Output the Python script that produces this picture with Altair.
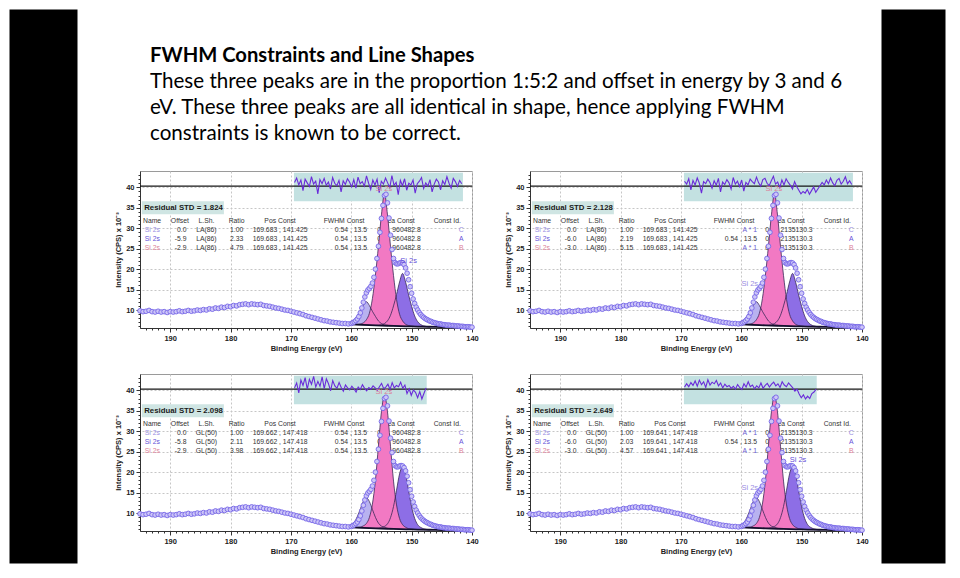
import altair as alt
import numpy as np
import pandas as pd

FONT = "Liberation Sans"
SLIDE_FONT = "Lato"

TITLE = "FWHM Constraints and Line Shapes"
BODY_LINES = [
    "These three peaks are in the proportion 1:5:2 and offset in energy by 3 and 6",
    "eV. These three peaks are all identical in shape, hence applying FWHM",
    "constraints is known to be correct.",
]

# measured Si 2s spectrum (same acquisition in all four panels), intensity x 10^-3
SPEC_WIDE = [9.8, 9.6, 9.7, 9.9, 9.6, 9.5, 9.7, 9.5, 9.6, 9.4,
             9.6, 9.5, 9.6, 9.8, 9.6, 9.7, 9.9, 9.7, 9.8, 10.0,
             9.9, 10.1, 10.0, 10.3, 10.2, 10.5, 10.4, 10.7, 10.6, 10.9,
             10.8, 11.1, 11.0, 11.3, 11.4, 11.5, 11.3, 11.5, 11.4, 11.3,
             11.4, 11.1, 11.0, 10.9, 10.7, 10.5, 10.4, 10.2, 10.0, 9.9,
             9.7, 9.5, 9.3, 9.1, 8.9, 8.6, 8.4, 8.2, 8.0, 7.8,
             7.6, 7.4, 7.3, 7.1, 7.0, 6.9, 6.8, 6.7, 6.7, 6.6, 6.7]          # 195 -> 160 eV
SPEC_FINE = [6.9, 7.1, 7.4, 7.8, 8.4, 9.3, 10.5, 11.9, 13.2, 14.2,
             14.9, 15.3, 15.8, 16.6, 18.0, 20.0, 22.6, 25.6, 29.0, 32.4,
             35.6, 38.0, 38.3, 36.2, 32.5, 28.3, 24.8, 22.6, 21.6, 21.3,
             21.3, 21.5, 21.6, 21.5, 21.1, 20.3, 19.0, 17.4, 15.7, 14.1,
             12.7, 11.6, 10.7, 10.0, 9.4, 8.9, 8.5, 8.2, 7.9, 7.7,
             7.5, 7.3, 7.2, 7.0, 6.9, 6.8, 6.7, 6.6, 6.6, 6.5,
             6.4, 6.4, 6.3, 6.3, 6.3, 6.2, 6.2, 6.2, 6.1, 6.1,
             6.1, 6.0, 6.0, 6.0, 5.9, 5.9, 5.9, 5.9, 5.8, 5.8]              # 159.75 -> 140 eV

# Shirley-type background, 168 -> 140 eV every 1 eV
BG_I = [8.8, 8.3, 7.9, 7.5, 7.2, 6.95, 6.75, 6.6, 6.5, 6.42,
        6.36, 6.3, 6.25, 6.2, 6.15, 6.1, 6.06, 6.02, 5.98, 5.95,
        5.92, 5.9, 5.88, 5.85, 5.82, 5.8, 5.78, 5.76, 5.75]

# component grid 161 -> 147 eV every 0.5 eV: background under the peaks, and peak heights above it
COMP_BASE = [6.6, 6.55, 6.5, 6.46, 6.42, 6.39, 6.36, 6.33, 6.3, 6.28,
             6.25, 6.22, 6.2, 6.18, 6.15, 6.12, 6.1, 6.08, 6.06, 6.04,
             6.02, 6.0, 5.98, 5.96, 5.95, 5.94, 5.92, 5.91, 5.9]
C_LA = [0.1, 0.2, 0.5, 1.1, 2.2, 3.4, 4.8, 5.7, 4.8, 3.4, 2.2, 1.1, 0.5, 0.2, 0.1,
        0.0, 0.0, 0.0, 0.0, 0.0, 0.0, 0.0, 0.0, 0.0, 0.0, 0.0, 0.0, 0.0, 0.0]
B_LA = [0.0, 0.0, 0.0, 0.0, 0.05, 0.2, 0.5, 1.3, 2.9, 6.5, 12.3, 19.4, 27.1, 32.3,
        27.1, 19.4, 12.3, 6.5, 2.9, 1.3, 0.5, 0.2, 0.05, 0.0, 0.0, 0.0, 0.0, 0.0, 0.0]
A_LA = [0.0, 0.0, 0.0, 0.0, 0.0, 0.0, 0.0, 0.0, 0.0, 0.0, 0.0, 0.06, 0.2, 0.5, 1.2,
        2.6, 4.9, 7.7, 10.8, 12.9, 10.8, 7.7, 4.9, 2.6, 1.2, 0.5, 0.2, 0.06, 0.0]
C_GL = [0.1, 0.3, 0.6, 1.3, 2.7, 4.6, 6.5, 7.4, 6.5, 4.6, 2.7, 1.3, 0.6, 0.3, 0.1,
        0.0, 0.0, 0.0, 0.0, 0.0, 0.0, 0.0, 0.0, 0.0, 0.0, 0.0, 0.0, 0.0, 0.0]
B_GL = [0.0, 0.0, 0.0, 0.02, 0.05, 0.16, 0.5, 1.1, 2.6, 5.9, 11.7, 20.2, 28.6, 32.5,
        28.6, 20.2, 11.7, 5.9, 2.6, 1.1, 0.5, 0.16, 0.05, 0.02, 0.0, 0.0, 0.0, 0.0, 0.0]
A_GL = [0.0, 0.0, 0.0, 0.0, 0.0, 0.0, 0.0, 0.0, 0.0, 0.0, 0.0, 0.08, 0.23, 0.54, 1.2,
        2.75, 5.5, 9.5, 13.5, 15.3, 13.5, 9.5, 5.5, 2.75, 1.2, 0.54, 0.23, 0.08, 0.03]

# residuals (drawn about the zero line at 40.3 on the intensity axis)
RESID_ZERO = 40.3
RESID_1 = [41.2, 42.3, 40.6, 41.8, 39.2, 42.0, 41.1, 40.2, 42.6, 40.8, 41.5, 38.4, 41.9, 40.9, 42.2, 40.5,
           41.3, 39.6, 42.4, 41.0, 40.4, 41.7, 38.9, 41.6, 40.7, 42.1, 41.3, 40.1, 41.9, 39.8, 42.5, 40.9,
           41.4, 40.3, 42.8, 41.0, 39.5, 41.8, 40.6, 42.0, 38.7, 41.5, 40.8, 42.3, 41.1, 39.9, 42.9, 40.5,
           41.2, 38.2, 41.7, 40.4, 42.1, 39.3, 41.0, 40.6, 41.8, 38.6, 40.9, 41.5, 42.4, 39.7, 41.1, 40.3,
           41.9, 38.9, 40.8, 42.0, 41.3, 39.4, 41.6, 40.7, 42.6, 41.0, 39.8, 42.2, 41.4, 40.2, 41.7, 40.9]
RESID_2 = [41.5, 40.8, 42.1, 39.4, 41.7, 40.6, 42.3, 41.0, 38.6, 41.4, 40.9, 42.0, 41.2, 39.8, 41.6, 40.5,
           42.2, 38.9, 41.3, 40.7, 41.9, 41.1, 39.6, 42.4, 40.8, 41.5, 40.2, 41.8, 39.1, 41.2, 40.6, 42.0,
           41.4, 40.9, 42.5, 41.1, 40.3, 41.9, 42.2, 41.0, 40.4, 41.6, 42.7, 40.8, 41.3, 39.9, 41.8, 40.6,
           42.1, 41.2, 40.5, 39.6, 41.4, 40.2, 39.3, 38.4, 39.0, 38.6, 39.5, 38.3, 39.2, 40.1, 38.8, 39.6,
           40.4, 41.2, 40.6, 41.8, 40.9, 42.3, 41.1, 40.4, 41.7, 42.2, 40.8, 41.5, 42.6, 40.9, 41.6, 40.7]
RESID_3 = [40.6, 41.8, 39.4, 42.5, 41.2, 43.1, 40.3, 42.7, 41.5, 43.4, 40.8, 42.2, 41.0, 43.3, 40.4, 42.8,
           41.6, 39.9, 42.4, 41.1, 40.5, 41.9, 40.7, 39.8, 41.3, 40.6, 40.1, 41.0, 40.4, 39.6, 40.8, 40.2,
           41.4, 40.5, 39.9, 40.7, 40.3, 41.1, 40.6, 40.0, 40.9, 41.7, 40.4, 40.8, 41.5, 40.2, 41.9, 40.6,
           41.2, 40.9, 42.0, 40.5, 41.3, 39.2, 40.4, 38.8, 40.1, 39.5, 38.2, 39.7, 37.9, 39.3, 40.6]
RESID_4 = [40.8, 41.6, 40.9, 41.9, 41.2, 42.3, 41.0, 42.5, 41.4, 42.1, 40.7, 42.6, 41.3, 42.0, 41.6, 42.4,
           41.1, 41.8, 40.6, 41.5, 40.9, 41.2, 40.5, 41.0, 40.3, 41.4, 40.7, 40.2, 41.6, 40.8, 42.1, 40.9,
           41.3, 40.4, 41.1, 40.6, 41.8, 40.5, 41.2, 41.7, 40.8, 41.5, 42.0, 41.1, 41.6, 40.7, 42.1, 41.3,
           40.9, 41.8, 41.2, 40.6, 39.8, 40.3, 39.1, 38.2, 38.9, 37.9, 38.6, 38.0, 39.2, 39.6, 40.3]
RESID = [RESID_1, RESID_2, RESID_3, RESID_4]
RESID_START = 169.4
RESID_END = [141.7, 141.7, 147.6, 147.6]
RESID_BOX = [(169.5, 141.5), (169.5, 141.5), (169.5, 147.5), (169.5, 147.5)]

# fit report tables
STD_VALUES = ["1.824", "2.128", "2.098", "2.649"]
CONST_IDS = ["C", "A", "B"]
OFFSETS = [["0.0", "-5.9", "-2.9"], ["0.0", "-6.0", "-3.0"], ["0.0", "-5.8", "-2.9"], ["0.0", "-6.0", "-3.0"]]
LINE_SHAPES = ["LA(86)", "LA(86)", "GL(50)", "GL(50)"]
RATIOS = [["1.00", "2.33", "4.79"], ["1.00", "2.19", "5.15"], ["1.00", "2.11", "3.98"], ["1.00", "2.03", "4.57"]]
POS_CONST = ["169.683 , 141.425", "169.683 , 141.425", "169.662 , 147.418", "169.641 , 147.418"]
FWHM_CONST = [["0.54 , 13.5", "0.54 , 13.5", "0.54 , 13.5"], ["A * 1", "0.54 , 13.5", "A * 1"],
              ["0.54 , 13.5", "0.54 , 13.5", "0.54 , 13.5"], ["A * 1", "0.54 , 13.5", "A * 1"]]
AREA_CONST = ["0.0 , 960482.8", "0.0 , 2135130.3", "0.0 , 960482.8", "0.0 , 2135130.3"]
PEAK_LABELS = [[("A", 150.5, 21.9), ("B", 154.6, 39.7)],
               [("C", 158.6, 16.3), ("B", 154.6, 39.7)],
               [("B", 154.6, 39.7)],
               [("C", 158.6, 16.0), ("A", 150.6, 23.0)]]

# ---------- styling / layout ----------
COMP_FILL = {"C": "#b8b2f0", "A": "#8d6ee6", "B": "#f279c3"}
COMP_TEXT = {"C": "#9a8ee2", "A": "#6650d8", "B": "#dc7e98"}
INK = "#333333"
COL_X = {"name": 194.5, "si": 194.2, "offset_h": 188.4, "offset_v": 187.3, "lsh": 184.0,
         "ratio": 179.0, "pos": 171.8, "fwhm_h": 161.2, "fwhm_v": 157.4, "area_h": 152.3,
         "area_v": 152.1, "id_h": 144.1, "id_v": 141.4}
HEAD_Y = 31.7
ROW_Y = [29.5, 27.3, 25.1]
STD_BOX = (194.7, 181.1, 36.6, 33.4)
STD_TEXT = (194.3, 35.0)

PW, PH = 332, 157

X_SCALE = alt.Scale(domain=[140, 195], reverse=True, nice=False, zero=False)
Y_SCALE = alt.Scale(domain=[5.6, 44.0], nice=False, zero=False)

AX_X = alt.Axis(orient="bottom", values=[190, 180, 170, 160, 150, 140], title="Binding Energy (eV)",
                labelFont=FONT, labelFontWeight="bold", labelFontSize=7.5, labelColor="#222",
                labelPadding=2, labelFlush=False, labelOverlap=False, tickSize=4, tickColor="#333",
                domainColor="#333", grid=True, gridColor="#c6c6c6", gridDash=[2, 2],
                titleFont=FONT, titleFontWeight="bold", titleFontSize=7.5, titleColor="#222", titlePadding=3)
AX_Y = alt.Axis(orient="left", values=[10, 15, 20, 25, 30, 35, 40], title="Intensity (CPS) x 10⁻³",
                labelFont=FONT, labelFontWeight="bold", labelFontSize=7.5, labelColor="#222",
                labelPadding=2, labelFlush=False, tickSize=4, tickColor="#333",
                domainColor="#333", grid=True, gridColor="#c6c6c6", gridDash=[2, 2],
                titleFont=FONT, titleFontWeight="bold", titleFontSize=7.5, titleColor="#222", titlePadding=3)
AX_XM = alt.Axis(orient="bottom", values=list(range(141, 195)), labels=False, tickSize=2,
                 tickColor="#333", domain=False, grid=False, title=None)
AX_YM = alt.Axis(orient="left", values=list(range(6, 44)), labels=False, tickSize=2,
                 tickColor="#333", domain=False, grid=False, title=None)


def X(field, axis=None):
    return alt.X(field, type="quantitative", scale=X_SCALE, axis=axis)


def Y(field, axis=None):
    return alt.Y(field, type="quantitative", scale=Y_SCALE, axis=axis)


spec_df = pd.DataFrame({
    "E": np.concatenate([np.linspace(195, 160, len(SPEC_WIDE)), np.linspace(159.75, 140, len(SPEC_FINE))]),
    "I": SPEC_WIDE + SPEC_FINE,
})
bg_df = pd.DataFrame({"E": np.linspace(168, 140, len(BG_I)), "I": BG_I})
COMP_E = np.linspace(161, 147, len(COMP_BASE))
PEAKS = {"LA": {"C": C_LA, "A": A_LA, "B": B_LA}, "GL": {"C": C_GL, "A": A_GL, "B": B_GL}}


def table_df(k):
    rows = []

    def add(text, key, y, align, color=INK):
        rows.append(dict(text=text, E=COL_X[key], I=y, align=align, color=color))

    for t, key, a in [("Name", "name", "left"), ("Offset", "offset_h", "center"), ("L.Sh.", "lsh", "center"),
                      ("Ratio", "ratio", "center"), ("Pos Const", "pos", "center"),
                      ("FWHM Const", "fwhm_h", "center"), ("Area Const", "area_h", "center"),
                      ("Const Id.", "id_h", "center")]:
        add(t, key, HEAD_Y, a)
    for r in range(3):
        comp = CONST_IDS[r]
        y = ROW_Y[r]
        add("Si 2s", "si", y, "left", COMP_TEXT[comp])
        add(OFFSETS[k][r], "offset_v", y, "right")
        add(LINE_SHAPES[k], "lsh", y, "center")
        add(RATIOS[k][r], "ratio", y, "center")
        add(POS_CONST[k], "pos", y, "center")
        f = FWHM_CONST[k][r]
        add(f, "fwhm_v", y, "right", "#6a5ad0" if f.startswith("A") else INK)
        add(AREA_CONST[k], "area_v", y, "center")
        add(comp, "id_v", y, "right", COMP_TEXT[comp])
    return pd.DataFrame(rows)


def panel(k):
    shape = "LA" if k < 2 else "GL"
    layers = []
    x0, x1 = RESID_BOX[k]
    box = pd.DataFrame({"E": [x0], "E2": [x1], "I": [36.6], "I2": [43.6]})
    layers.append(alt.Chart(box).mark_rect(color="#c3e1e1").encode(
        x=X("E"), x2="E2", y=Y("I"), y2="I2"))

    tdf = table_df(k)
    for a in ["left", "center", "right"]:
        layers.append(alt.Chart(tdf[tdf["align"] == a]).mark_text(
            align=a, baseline="middle", font=FONT, fontSize=6.8).encode(
            x=X("E"), y=Y("I"), text="text:N", color=alt.Color("color:N", scale=None)))

    sbox = pd.DataFrame({"E": [STD_BOX[0]], "E2": [STD_BOX[1]], "I": [STD_BOX[2]], "I2": [STD_BOX[3]]})
    layers.append(alt.Chart(sbox).mark_rect(color="#cfe5e3").encode(x=X("E"), x2="E2", y=Y("I"), y2="I2"))
    sdf = pd.DataFrame({"E": [STD_TEXT[0]], "I": [STD_TEXT[1]], "t": ["Residual STD = " + STD_VALUES[k]]})
    layers.append(alt.Chart(sdf).mark_text(align="left", baseline="middle", font=FONT, fontSize=7.8,
                                           fontWeight="bold", color="#1a1a1a").encode(
        x=X("E"), y=Y("I"), text="t:N"))

    for comp in ["C", "A", "B"]:
        h = PEAKS[shape][comp]
        cdf = pd.DataFrame({"E": COMP_E, "base": COMP_BASE,
                            "top": [b + v for b, v in zip(COMP_BASE, h)]})
        layers.append(alt.Chart(cdf).mark_area(color=COMP_FILL[comp], opacity=1, interpolate="monotone").encode(
            x=X("E"), y=Y("top"), y2="base"))
    for comp in ["C", "A", "B"]:
        h = PEAKS[shape][comp]
        cdf = pd.DataFrame({"E": COMP_E, "top": [b + v for b, v in zip(COMP_BASE, h)]})
        layers.append(alt.Chart(cdf).mark_line(color="#3a2858", strokeWidth=0.8, interpolate="monotone").encode(
            x=X("E"), y=Y("top")))

    layers.append(alt.Chart(bg_df).mark_line(color="#15102e", strokeWidth=1.8).encode(x=X("E"), y=Y("I")))

    layers.append(alt.Chart(spec_df).mark_point(shape="circle", filled=False, fill="#cdc6f7", stroke="#7666e8",
                                                 strokeWidth=0.9, size=22, opacity=1).encode(
        x=X("E", AX_X), y=Y("I", AX_Y)))

    zdf = pd.DataFrame({"I": [RESID_ZERO]})
    layers.append(alt.Chart(zdf).mark_rule(color="#151515", strokeWidth=1.3).encode(y=Y("I")))

    vals = RESID[k]
    rdf = pd.DataFrame({"E": np.linspace(RESID_START, RESID_END[k], len(vals)), "I": vals})
    layers.append(alt.Chart(rdf).mark_line(color="#6a2bd9", strokeWidth=1.1).encode(x=X("E"), y=Y("I")))

    ldf = pd.DataFrame([{"E": e, "I": i, "t": "Si 2s", "color": COMP_TEXT[c]} for c, e, i in PEAK_LABELS[k]])
    layers.append(alt.Chart(ldf).mark_text(font=FONT, fontSize=7.5, baseline="middle").encode(
        x=X("E"), y=Y("I"), text="t:N", color=alt.Color("color:N", scale=None)))

    layers.append(alt.Chart(box).mark_point(opacity=0, size=1).encode(x=X("E", AX_XM), y=Y("I", AX_YM)))

    return alt.layer(*layers).resolve_axis(x="independent", y="independent").properties(
        width=PW, height=PH, view=alt.ViewBackground(fill="white", stroke="#9a9a9a"))


one = pd.DataFrame({"a": [0]})


def blank(w, h, fill=None):
    vb = alt.ViewBackground(fill=fill, stroke="transparent") if fill else alt.ViewBackground(stroke="transparent")
    return alt.Chart(one).mark_rect(opacity=0).encode(
        x=alt.value(0), x2=alt.value(1), y=alt.value(0), y2=alt.value(1)).properties(
        width=w, height=h, view=vb)


text_layers = [alt.Chart(pd.DataFrame({"t": [TITLE]})).mark_text(
    align="left", baseline="middle", font=SLIDE_FONT, fontSize=20.2, fontWeight="bold", color="#000").encode(
    x=alt.value(71), y=alt.value(47), text="t:N")]
for i, line in enumerate(BODY_LINES):
    text_layers.append(alt.Chart(pd.DataFrame({"t": [line]})).mark_text(
        align="left", baseline="middle", font=SLIDE_FONT, fontSize=20.6, color="#000").encode(
        x=alt.value(71), y=alt.value(73 + 26 * i), text="t:N"))
title_chart = alt.layer(*text_layers).properties(width=800, height=140,
                                                  view=alt.ViewBackground(stroke="transparent"))

row1 = alt.hconcat(blank(3, PH), panel(0), panel(1), spacing=58, bounds="flush")
row2 = alt.hconcat(blank(3, PH), panel(2), panel(3), spacing=58, bounds="flush")
center = alt.vconcat(title_chart, row1, row2, spacing=20)

chart = alt.hconcat(blank(68, 554, "black"), center, blank(64, 554, "black"),
                    spacing=0, padding=0, background="white")

chart.save("out.html", embed_options={"renderer": "svg", "actions": False})
